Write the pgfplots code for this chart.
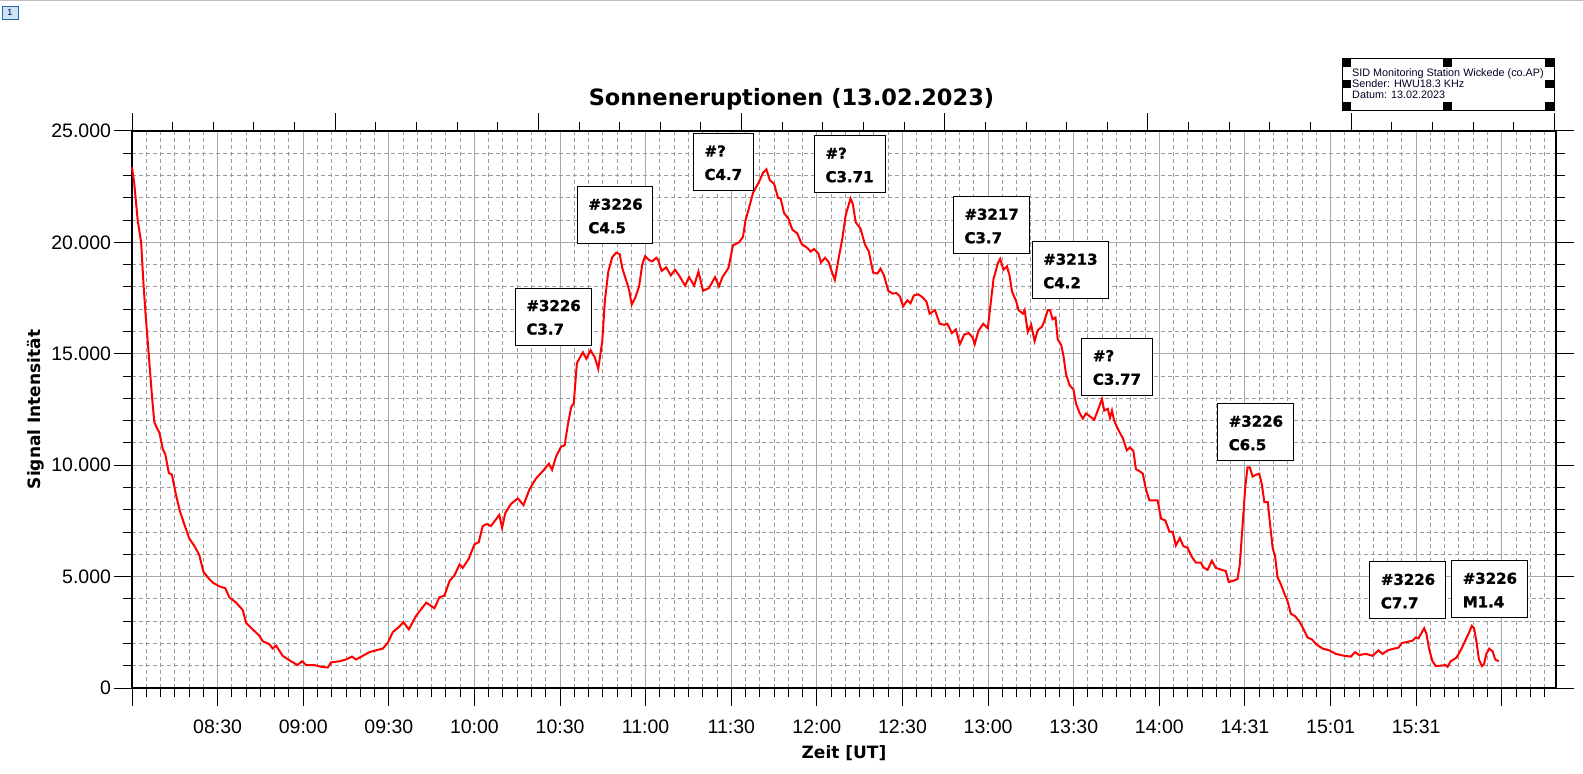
\documentclass[border=0pt]{standalone}
\usepackage{pgfplots}
\pgfplotsset{compat=1.18}
\usepackage{fontspec}
\setmainfont{DejaVu Sans}
\newfontfamily\lib{Liberation Sans}
\newfontfamily\heavy[FakeBold=1.3]{DejaVu Sans Bold}
\definecolor{gridmaj}{RGB}{168,168,168}
\definecolor{gridmin}{RGB}{155,155,155}
\definecolor{boxblue}{RGB}{205,228,247}
\definecolor{boxborder}{RGB}{40,100,170}
\newcommand\boxfont{\heavy\fontsize{15bp}{15bp}\selectfont}
\newcommand\flare[5]{%
  \draw[line width=1bp, fill=white] (axis cs:#1,#2) rectangle ++(#3bp,-57bp);
  \node[anchor=base west, inner sep=0, xshift=11bp, yshift=-23bp, font=\boxfont] at (axis cs:#1,#2) {#4};
  \node[anchor=base west, inner sep=0, xshift=11bp, yshift=-46.5bp, font=\boxfont] at (axis cs:#1,#2) {#5};
}
\begin{document}
\begin{tikzpicture}
\useasboundingbox (0,0) rectangle (1583bp,774bp);
\fill[white] (0,0) rectangle (1583bp,774bp);
\draw[gray!50, line width=1bp] (0,773.5bp) -- (1583bp,773.5bp);
% page marker
\draw[boxborder, fill=boxblue, line width=0.8bp] (2bp,755bp) rectangle (18bp,768bp);
\node[font=\lib\fontsize{9bp}{9bp}\selectfont, text=black!80!blue] at (10bp,761.5bp) {1};
% title
\node[anchor=base, font=\fontsize{22.5bp}{22.5bp}\selectfont\bfseries] at (791.5bp,668bp) {Sonneneruptionen (13.02.2023)};
% axis labels
\node[rotate=90, font=\fontsize{17bp}{17bp}\selectfont\bfseries] at (36bp,364.5bp) {Signal Intensität};
% info box
\draw[line width=1bp, fill=white] (1342bp,663.3bp) rectangle (1554bp,715bp);
\foreach \hx in {1342,1442.5,1545}{
  \fill[black] (\hx bp,707bp) rectangle ++(9bp,8bp);
  \fill[black] (\hx bp,663.3bp) rectangle ++(9bp,8.7bp);
}
\fill[black] (1342bp,686bp) rectangle ++(9bp,8bp);
\fill[black] (1545bp,686bp) rectangle ++(9bp,8bp);
\node[anchor=north west, inner sep=0, align=left, font=\lib\fontsize{10.8bp}{11.2bp}\selectfont, text=black!85!blue] at (1352bp,706bp) {SID Monitoring Station Wickede (co.AP)\\Sender: HWU18.3 KHz\\Datum: 13.02.2023};

\begin{axis}[
  at={(132bp,86bp)}, anchor=south west,
  width=1424bp, height=557bp, scale only axis,
  xmin=480, xmax=979, ymin=0, ymax=25000,
  scaled y ticks=false,
  axis line style={line width=1.5bp, black},
  xtick={480,510,...,960},
  xticklabels={,08:30,09:00,09:30,10:00,10:30,11:00,11:30,12:00,12:30,13:00,13:30,14:00,14:31,15:01,15:31,},
  minor xtick={480,485,...,975},
  ytick={0,5000,...,25000},
  yticklabels={0,5.000,10.000,15.000,20.000,25.000},
  minor ytick={0,1000,...,25000},
  xtick pos=left, ytick pos=both, yticklabel pos=left,
  tick align=outside,
  major tick length=17.5bp, minor tick length=9bp,
  tick style={black, line width=1bp},
  grid=both,
  major grid style={solid, gridmaj, line width=1bp},
  minor grid style={gridmin, line width=1bp, dash pattern=on 4bp off 3bp},
  ticklabel style={font=\lib\fontsize{19.5bp}{19.5bp}\selectfont},
  xticklabel style={yshift=-11bp},
  xlabel={Zeit [UT]},
  xlabel style={at={(rel axis cs:0.5,0)}, anchor=center, yshift=-65bp, font=\fontsize{17bp}{17bp}\selectfont\bfseries},
  clip=false,
]
\addplot[red, line width=2bp, no marks] coordinates {
(480,23370)(480.8,22630)(482,20990)(483.2,20000)(484,18190)(484.7,16880)(485.5,15570)(486.3,14250)(487,13100)(487.8,11950)(488.6,11700)(489.6,11460)(490.8,10720)(491.7,10480)(492.9,9650)(494,9570)(495.4,8670)(496.8,7930)(498.3,7360)(500.1,6700)(501.9,6370)(503.6,5960)(505,5220)(506.5,4975)(508.3,4730)(510.6,4560)(512.7,4480)(514.1,4070)(516.5,3830)(518.8,3500)(520,2920)(522.3,2630)(524.6,2350)(525.8,2100)(528.1,1970)(529.3,1770)(530.5,1900)(532.8,1445)(535.7,1200)(538,1030)(539.6,1200)(541,1030)(543.9,1030)(546.3,950)(548.6,920)(549.8,1150)(552.7,1200)(555,1280)(557.1,1410)(558.5,1280)(560.9,1445)(563.2,1610)(565.5,1690)(567.9,1770)(569.6,2020)(571.4,2510)(573.7,2760)(575.1,2960)(577,2630)(579.6,3250)(583.1,3830)(586,3580)(587.7,4070)(589.5,4150)(591.3,4810)(593,5060)(594.8,5550)(595.9,5390)(598,5800)(600,6450)(601.5,6540)(602.9,7270)(604.3,7360)(605.8,7270)(608.7,7770)(609.7,7190)(610.8,7850)(612.8,8260)(615.2,8510)(617.2,8210)(619.3,8920)(621.6,9410)(624,9740)(626.1,10070)(627.2,9790)(628.6,10390)(630.4,10840)(631.6,10890)(632.7,11790)(633.9,12610)(634.8,12775)(635.9,14580)(638,15070)
(639.2,14780)(640.7,15160)(642.2,14830)(643.4,14330)(644.8,15570)(645.7,17370)(646.9,18690)(648.3,19340)(649.7,19540)(650.9,19470)(651.8,18850)(653,18360)(654.2,17870)(655.1,17210)(656.3,17500)(657.7,18030)(658.8,19010)(659.8,19380)(661.2,19210)(662.3,19150)(663.7,19310)(664.4,19210)(665.6,18720)(667.2,18880)(668.8,18520)(670.3,18770)(671.7,18520)(673.8,18060)(675.2,18440)(677,18060)(678.5,18690)(680.1,17830)(682.2,17950)(684.3,18440)(685.7,18030)(686.9,18440)(689,18850)(690.6,19870)(692.7,20000)(694.1,20250)(695,20990)(696.4,21640)(697.6,22220)(699.7,22710)(701.1,23120)(702.3,23280)(703.5,22790)(705,22630)(706.4,22000)(707.3,21970)(708.5,21310)(710,21070)(711.4,20570)(713.1,20410)(714.7,19920)(716.7,19750)(717.8,19590)(719,19700)(720.5,19510)(721.4,19100)(722.9,19310)(724.2,19100)(725.2,18690)(726.3,18320)(727.7,19340)(728.9,20160)(730.1,21230)(731.8,21970)(732.6,21720)(733.6,20900)(735.3,20620)(736.8,19920)(738.2,19590)(739.7,18650)(741.2,18600)(742.3,18820)(743.5,18520)(745,17830)(746.5,17700)(747.9,17730)(749.1,17570)(750.2,17130)(751.7,17400)(752.8,17270)(754,17620)(755.5,17670)(757,17540)(758.4,17340)(759.5,16800)(761.4,16960)(763,16350)(764.6,16300)(765.7,16350)(767.3,15930)(768.7,16090)(770.1,15430)(771.6,15860)(773.2,15930)(774.6,15730)(775.3,15430)(776.6,16030)(778.3,16350)(779.9,16140)(780.7,17040)(781.9,18360)(783.4,19050)(784.2,19260)(785.4,18770)(786.6,18930)(787.5,18520)(788.4,17780)(789.8,17370)(790.7,16960)(792.2,16800)(792.8,16960)(793.9,15980)(795.1,16300)(796.3,15570)(797.4,16060)
(798.9,16220)(799.7,16470)(800.9,16960)(801.7,16960)(802.6,16550)(803.6,16630)(804.4,15650)(805.6,15400)(806.4,14910)(807.3,14090)(808.5,13600)(809.9,13400)(810.8,12770)(812,12360)(813.2,12090)(814.3,12320)(816.1,12150)(817.2,12040)(818.4,12450)(819.9,12970)(820.7,12450)(821.9,12530)(822.7,12120)(823.4,12450)(824.2,11990)(825.8,11540)(827.2,11220)(828.6,10670)(829.7,10800)(830.9,10640)(831.8,9820)(833,9740)(834.2,9620)(835.3,8920)(836.5,8420)(837.9,8420)(839.4,8420)(840.6,7600)(842.1,7520)(843.5,7030)(844.7,7000)(845.8,6400)(847.2,6730)(848.4,6370)(849.9,6290)(851.4,5880)(852.8,5630)(854.6,5630)(855.4,5420)(856.9,5300)(858.4,5710)(859.8,5390)(861.9,5300)(863.3,5250)(864.3,4760)(865.9,4810)(867.4,4890)(868.2,5550)(869.2,7360)(870.1,9000)(870.9,9900)(871.7,9900)(872.7,9490)(873.8,9570)(875,9620)(875.9,9160)(876.8,8340)(878,8340)(878.8,7360)(879.7,6290)(880.6,5880)(881.4,4980)(882.6,4650)(883.8,4240)(884.9,3910)(886.1,3330)(887.6,3220)(889,3000)(890.4,2680)(891.9,2270)(893.5,2180)(894.9,1970)(897.2,1770)(899.5,1690)(901.9,1530)(904.8,1445)(907.1,1410)(908.6,1610)(910,1480)(912.4,1530)(914.7,1445)(916.8,1690)(918.2,1530)(920,1690)(922.3,1770)(923.8,1810)(925,2020)(927,2070)(928.8,2130)(929.9,2270)(930.8,2230)(932.8,2680)(933.6,2430)(934.5,1770)(935.7,1200)(936.9,985)(938.6,1000)(940.2,1030)(941,950)(942.1,1200)(944.1,1360)(945.6,1690)(947.4,2180)(948.6,2510)(949.5,2790)(950.3,2680)(951.1,2100)(952,1280)(953,985)(953.8,1080)(954.6,1530)(955.6,1770)(956.8,1640)(957.7,1280)(958.9,1200)
};
\flare{614.3}{17950}{76}{\#3226}{C3.7}
\flare{636}{22500}{75}{\#3226}{C4.5}
\flare{676.7}{24890}{60}{\#?}{C4.7}
\flare{719.1}{24790}{71}{\#?}{C3.71}
\flare{767.8}{22050}{76}{\#3217}{C3.7}
\flare{795.4}{20030}{76}{\#3213}{C4.2}
\flare{812.8}{15700}{71}{\#?}{C3.77}
\flare{860.4}{12760}{76}{\#3226}{C6.5}
\flare{913.7}{5660}{76}{\#3226}{C7.7}
\flare{942.4}{5710}{76}{\#3226}{M1.4}
\end{axis}
\begin{axis}[
  at={(132bp,86bp)}, anchor=south west,
  width=1424bp, height=557bp, scale only axis,
  xmin=0, xmax=35.04, ymin=0, ymax=1,
  axis x line*=top, axis y line=none,
  axis line style={line width=1.5bp, black, -},
  xtick={0,5,...,35}, minor xtick={0,1,...,35}, xticklabels={},
  tick align=outside,
  major tick length=17.5bp, minor tick length=9bp,
  tick style={black, line width=1bp},
]
\end{axis}
\end{tikzpicture}
\end{document}
